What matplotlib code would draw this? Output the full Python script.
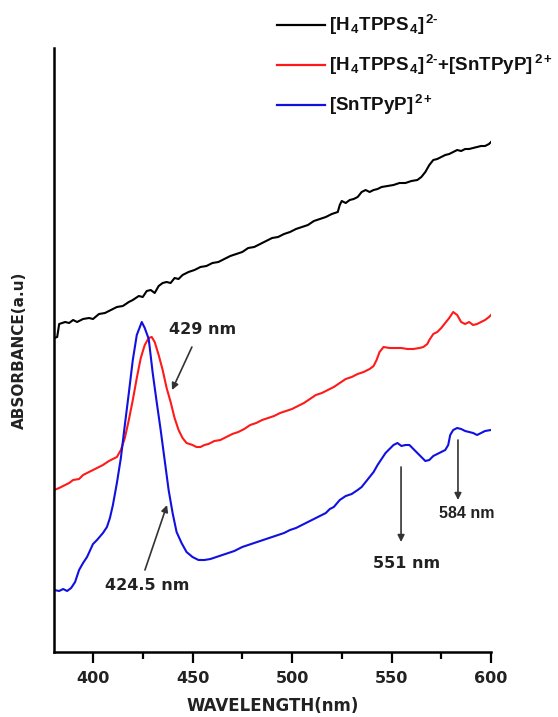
import matplotlib
matplotlib.use("Agg")
import matplotlib.pyplot as plt
from matplotlib.lines import Line2D
import numpy as np

plt.rcParams['mathtext.default'] = 'regular'
plt.rcParams['mathtext.fontset'] = 'custom'
plt.rcParams['mathtext.rm'] = 'Liberation Sans'
plt.rcParams['mathtext.it'] = 'Liberation Sans:italic'
plt.rcParams['mathtext.bf'] = 'Liberation Sans:bold'

# ---- data (wavelength nm, absorbance a.u.) ----
black_x = [380.5, 382, 383, 386, 388, 390, 392, 395, 398, 400, 403, 406, 409, 412, 415, 418, 420, 423, 425, 427,
           429, 431, 433, 435, 437, 439, 441, 443, 445, 448, 451, 454, 457, 460, 463, 466, 469, 472, 475, 478,
           481, 484, 487, 490, 493, 496, 499, 502, 505, 508, 511, 514, 517, 520, 523, 524, 525, 527, 529, 531,
           533, 535, 537, 539, 541, 543, 545, 548, 551, 554, 557, 560, 563, 565, 567, 569, 571, 573, 575, 577,
           579, 581, 583, 585, 587, 589, 591, 593, 595, 597, 599, 600]
black_py = [338, 337, 324, 322, 323, 320, 322, 319, 318, 319, 314, 313, 310, 307, 306, 302, 300, 296, 297, 291,
            290, 293, 286, 283, 282, 283, 278, 279, 275, 272, 270, 267, 266, 263, 262, 259, 256, 254, 252, 248,
            247, 244, 241, 238, 237, 234, 232, 229, 227, 225, 221, 219, 217, 214, 212, 205, 201, 203, 200, 199,
            197, 192, 190, 192, 190, 189, 187, 186, 185, 183, 183, 181, 180, 177, 172, 165, 160, 159, 157, 155,
            154, 152, 150, 151, 149, 149, 148, 147, 146, 146, 144, 142]

red_x = [380.5, 383, 385, 388, 390, 393, 395, 398, 400, 403, 405, 408, 410, 412, 414, 416, 418, 420, 422, 424,
         426, 428, 429.5, 431, 433, 435, 437, 439, 441, 443, 445, 447, 450, 452, 454, 456, 458, 461, 464, 467,
         470, 473, 476, 479, 482, 485, 488, 491, 494, 497, 500, 503, 506, 509, 512, 515, 518, 521, 524, 527,
         530, 533, 536, 539, 541, 542.5, 544, 546, 549, 552, 555, 558, 561, 564, 566, 568, 569, 571, 573, 575,
         577, 579, 581, 583, 585, 587, 589, 591, 593, 595, 597, 599, 600]
red_py = [490, 488, 486, 483, 480, 479, 475, 472, 470, 467, 465, 461, 459, 457, 450, 438, 420, 400, 378, 358,
          345, 338, 337, 342, 355, 370, 388, 402, 418, 430, 438, 443, 445, 447, 447, 445, 444, 441, 440, 437,
          434, 432, 429, 425, 423, 420, 418, 416, 413, 411, 409, 406, 403, 399, 395, 393, 390, 387, 383, 379,
          377, 374, 372, 369, 366, 360, 352, 347, 348, 348, 348, 349, 349, 348, 347, 344, 340, 334, 332, 328,
          323, 318, 312, 315, 322, 324, 322, 325, 324, 322, 320, 317, 315]

blue_x = [380.5, 383, 385, 387, 389, 391, 393, 395, 397, 400, 402, 405, 407, 408.5, 410, 412, 414, 416, 418, 420,
          422, 424.5, 426, 428, 430, 432, 434, 436, 438, 440, 442, 444.5, 447, 450, 453, 456, 459, 462, 465, 468,
          471, 475, 478, 481, 484, 487, 490, 493, 496, 499, 502, 505, 508, 511, 514, 517, 519, 521, 524, 527,
          530, 533, 535, 537, 539, 541, 543, 545, 547, 549, 551, 553, 555, 557, 559, 561, 563, 565, 567, 569,
          571, 573, 575, 577, 578.5, 579.5, 581, 583, 585, 587, 589, 591, 593, 595, 597, 600]
blue_py = [590, 591, 589, 591, 588, 582, 570, 563, 557, 544, 540, 533, 527, 518, 505, 483, 458, 425, 393, 360,
           335, 322, 328, 339, 373, 402, 430, 460, 490, 513, 532, 543, 552, 557, 560, 560, 559, 557, 555, 553,
           551, 547, 545, 543, 541, 539, 537, 535, 533, 530, 528, 525, 522, 519, 516, 513, 509, 507, 500, 496,
           494, 490, 487, 482, 477, 472, 465, 459, 453, 449, 445, 443, 446, 445, 445, 449, 453, 457, 461, 460,
           456, 454, 452, 450, 445, 435, 430, 428, 429, 431, 432, 433, 435, 433, 431, 430]

# convert read-off heights into absorbance units
black_y = [(652 - v) / 400 for v in black_py]
red_y = [(652 - v) / 400 for v in red_py]
blue_y = [(652 - v) / 400 for v in blue_py]

labels = [r'[H$_{\,4}$TPPS$_{\,4}$]$^{\,2\text{-}}$',
          r'[H$_{\,4}$TPPS$_{\,4}$]$^{\,2\text{-}}$+[SnTPyP]$^{\,2+}$',
          r'[SnTPyP]$^{\,2+}$']
colors = ['#000000', '#ff1a1a', '#1010e0']

fig = plt.figure(figsize=(5.58, 7.17), dpi=100)
ax = fig.add_axes([54/558, 1 - 652/717, (491-54)/558, (652-48)/717])

ax.plot(black_x, black_y, color=colors[0], lw=1.5)
ax.plot(red_x, red_y, color=colors[1], lw=1.5)
ax.plot(blue_x, blue_y, color=colors[2], lw=1.5)

ax.set_xlim(380.4, 600)
ax.set_ylim(0, 1.51)
ax.spines['top'].set_visible(False)
ax.spines['right'].set_visible(False)
ax.spines['left'].set_linewidth(1.8)
ax.spines['bottom'].set_linewidth(1.8)
ax.set_yticks([])
ax.set_xticks([400, 450, 500, 550, 600])
ax.set_xticks([425, 475, 525, 575], minor=True)
ax.tick_params(axis='x', which='major', length=8, width=1.6, pad=6, labelsize=11.5)
ax.tick_params(axis='x', which='minor', length=5, width=1.6)
for t in ax.get_xticklabels():
    t.set_fontweight('bold')
    t.set_color('#222222')

ax.set_xlabel('WAVELENGTH(nm)', fontsize=12, fontweight='bold', color='#222222')
ax.xaxis.set_label_coords(0.5, -0.075)
ax.set_ylabel('ABSORBANCE(a.u)', fontsize=11, fontweight='bold', color='#222222')
ax.yaxis.set_label_coords(-0.062, 0.5)

# annotations
arr = dict(arrowstyle='-|>', color='#333333', lw=1.2, mutation_scale=10, shrinkA=0, shrinkB=0)
ax.annotate('', xy=(439.7, 0.655), xytext=(449.7, 0.7625), arrowprops=arr)
ax.text(455.3, 0.805, '429 nm', fontsize=11.5, fontweight='bold', ha='center', va='center', color='#222222')
ax.annotate('', xy=(437.2, 0.3675), xytext=(426.1, 0.205), arrowprops=arr)
ax.text(427, 0.1675, '424.5 nm', fontsize=11.5, fontweight='bold', ha='center', va='center', color='#222222')
ax.annotate('', xy=(554.8, 0.275), xytext=(554.8, 0.4625), arrowprops=arr)
ax.text(557.8, 0.2225, '551 nm', fontsize=11.5, fontweight='bold', ha='center', va='center', color='#222222')
ax.annotate('', xy=(583.4, 0.38), xytext=(583.4, 0.53), arrowprops=arr)
ax.text(588, 0.345, '584 nm', fontsize=11.5, fontweight='bold', ha='center', va='center',
        color='#222222', family='Liberation Sans')

# legend (drawn above axes)
plt.rcParams['mathtext.rm'] = 'Liberation Sans:bold'
rows_py = [25, 65, 105]
for lab, col, py in zip(labels, colors, rows_py):
    yf = 1 - py / 717
    fig.add_artist(Line2D([277/558, 325/558], [yf, yf], color=col, lw=1.6, transform=fig.transFigure))
    fig.text(329/558, yf, lab, fontsize=13.5, family='Liberation Sans', fontweight='bold',
             ha='left', va='center', color='#111111')

fig.savefig('out.png', dpi=100)
